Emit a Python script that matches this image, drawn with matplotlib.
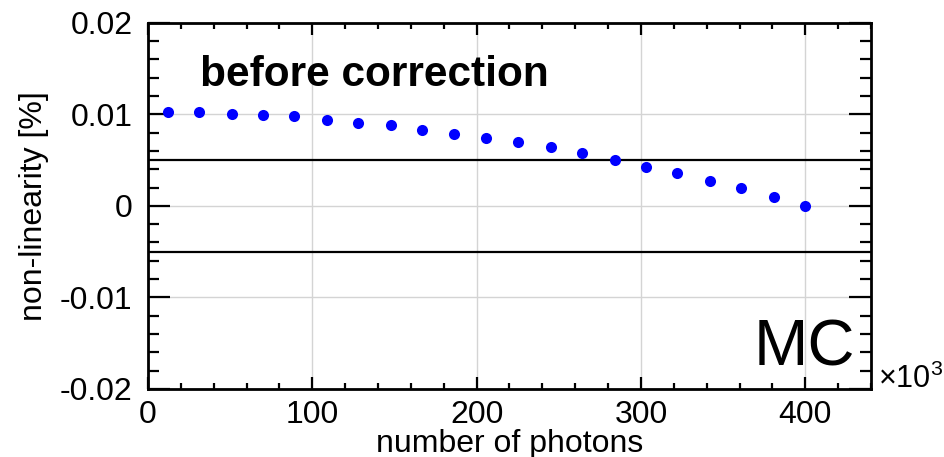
import matplotlib
matplotlib.use("Agg")

import matplotlib.pyplot as plt
from matplotlib.ticker import MultipleLocator, FuncFormatter

plt.rcParams["font.family"] = ["Liberation Sans", "DejaVu Sans"]
plt.rcParams["mathtext.default"] = "regular"

# number of photons (x10^3) and non-linearity [%]
photons = [12, 31, 51, 70, 89, 109, 128, 148, 167, 186, 206,
           225, 245, 264, 284, 303, 322, 342, 361, 381, 400]
nonlin = [0.0102, 0.0102, 0.0100, 0.0099, 0.0098, 0.0094, 0.0091, 0.0088,
          0.0083, 0.0079, 0.0074, 0.0070, 0.0064, 0.0058, 0.0050, 0.0042,
          0.0036, 0.0027, 0.0019, 0.0010, 0.0000]
band = [0.005, -0.005]

fig = plt.figure(figsize=(9.45, 4.57), dpi=100)
ax = fig.add_axes([0.1566, 0.1488, 0.7651, 0.8015])

ax.grid(True, which="major", color="#d4d4d4", linewidth=1.0)
ax.set_axisbelow(True)

for b in band:
    ax.axhline(b, color="black", linewidth=1.6, zorder=3)

ax.plot(photons, nonlin, "o", color="#0000ff", markersize=8,
        markeredgewidth=0, zorder=4)

ax.set_xlim(0, 440)
ax.set_ylim(-0.02, 0.02)

ax.xaxis.set_major_locator(MultipleLocator(100))
ax.xaxis.set_minor_locator(MultipleLocator(20))
ax.yaxis.set_major_locator(MultipleLocator(0.01))
ax.yaxis.set_minor_locator(MultipleLocator(0.002))
ax.yaxis.set_major_formatter(FuncFormatter(lambda v, p: "0" if abs(v) < 1e-9 else f"{v:g}"))

for s in ax.spines.values():
    s.set_linewidth(2.0)

ax.tick_params(axis="both", which="both", direction="in", top=True, right=True,
               width=1.6, color="black")
ax.tick_params(axis="x", which="major", length=8.5, labelsize=23, pad=8)
ax.tick_params(axis="x", which="minor", length=4.3)
ax.tick_params(axis="y", which="major", length=16, labelsize=23, pad=11)
ax.tick_params(axis="y", which="minor", length=8)

ax.set_xlabel("number of photons", fontsize=23, labelpad=-1)
ax.set_ylabel("non-linearity [%]", fontsize=23, labelpad=8)

ax.text(0.072, 0.826, "before correction", transform=ax.transAxes,
        fontsize=30.5, fontweight="bold", ha="left", va="baseline")
ax.text(0.978, 0.0655, "MC", transform=ax.transAxes,
        fontsize=47, ha="right", va="baseline")
fig.text(0.929, 0.151, r"$\times10^{3}$", fontsize=22, ha="left", va="baseline")

fig.savefig("out.png", dpi=100, facecolor="white")
